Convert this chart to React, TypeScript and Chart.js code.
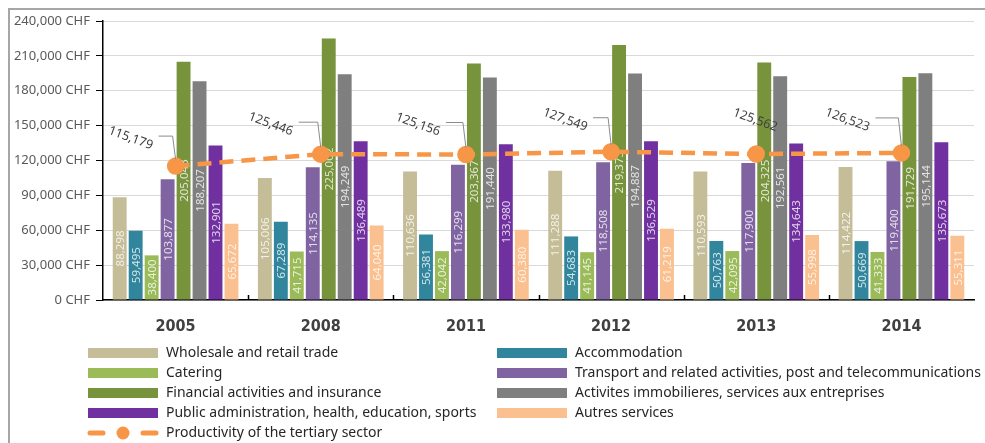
import { useEffect, useRef } from "react";
import { Chart, registerables } from "chart.js";

Chart.register(...registerables);

// Years on the category axis
const years = ["2005", "2008", "2011", "2012", "2013", "2014"];

// Value added per employee, CHF, by branch
const wholesale = [88298, 105006, 110636, 111288, 110593, 114422];
const accommodation = [59495, 67289, 56381, 54683, 50763, 50669];
const catering = [38400, 41715, 42042, 41145, 42095, 41333];
const transport = [103877, 114135, 116299, 118508, 117900, 119400];
const financial = [205043, 225002, 203367, 219373, 204325, 191729];
const realEstate = [188207, 194249, 191440, 194887, 192561, 195144];
const publicAdmin = [132901, 136489, 133980, 136529, 134643, 135673];
const otherServices = [65672, 64040, 60380, 61219, 55998, 55311];
const productivity = [115179, 125446, 125156, 127549, 125562, 126523];

// Value axis
const yMin = 0;
const yMax = 240000;
const yStep = 30000;

const seriesNames = [
  "Wholesale and retail trade",
  "Accommodation",
  "Catering",
  "Transport and related activities, post and telecommunications",
  "Financial activities and insurance",
  "Activites immobilieres, services aux entreprises",
  "Public administration, health, education, sports",
  "Autres services",
];
const lineName = "Productivity of the tertiary sector";

const barColors = ["#c4bd97", "#31859c", "#9bbb59", "#8064a2", "#77933c", "#7f7f7f", "#7030a0", "#fac090"];
const lineColor = "#f79646";

// Offsets (px) of the productivity labels from their points
const lineLabelOffsets: [number, number][] = [
  [-45, -28],
  [-50, -30],
  [-48, -30],
  [-46, -32],
  [-1, -34],
  [-54, -33],
];

const SANS = '"Noto Sans", "Open Sans", sans-serif';
const NARROW = '"Liberation Sans Narrow", "DejaVu Sans Condensed", sans-serif';

const fmt = (v: number) => String(Math.round(v)).replace(/\B(?=(\d{3})+(?!\d))/g, ",");

// Light grey frame along the top and left edges
const frame = {
  id: "frame",
  beforeDraw(chart: any) {
    const ctx = chart.ctx;
    ctx.save();
    ctx.fillStyle = "#fff";
    ctx.fillRect(0, 0, chart.width, chart.height);
    ctx.fillStyle = "#a6a6a6";
    ctx.fillRect(8, 8, chart.width - 8, 2);
    ctx.fillRect(8, 8, 2, chart.height - 8);
    ctx.restore();
  },
};

const barLabels = {
  id: "barLabels",
  afterDatasetDraw(chart: any, args: any) {
    const meta = args.meta;
    if (meta.type !== "bar") return;
    const ctx = chart.ctx;
    const values = chart.data.datasets[args.index].data as number[];
    ctx.save();
    ctx.font = `11.5px ${SANS}`;
    ctx.fillStyle = "rgba(255,255,255,0.78)";
    ctx.textAlign = "center";
    ctx.textBaseline = "middle";
    meta.data.forEach((el: any, i: number) => {
      const cy = (el.y + el.base) / 2;
      ctx.save();
      ctx.translate(el.x, cy);
      ctx.rotate(-Math.PI / 2);
      ctx.fillText(fmt(values[i]), 0, 1);
      ctx.restore();
    });
    ctx.restore();
  },
};

const lineLabels = {
  id: "lineLabels",
  afterDatasetsDraw(chart: any) {
    const ctx = chart.ctx;
    chart.data.datasets.forEach((ds: any, di: number) => {
      if (ds.type !== "line") return;
      const meta = chart.getDatasetMeta(di);
      meta.data.forEach((pt: any, i: number) => {
        const [dx, dy] = lineLabelOffsets[i];
        const tx = pt.x + dx;
        const ty = pt.y + dy;
        ctx.save();
        if (dx < -10) {
          ctx.strokeStyle = "#8c8c8c";
          ctx.lineWidth = 1;
          ctx.beginPath();
          ctx.moveTo(tx + 28, ty - 2);
          ctx.lineTo(pt.x - 3, ty - 2);
          ctx.lineTo(pt.x, pt.y - 7);
          ctx.stroke();
        }
        ctx.translate(tx, ty);
        ctx.rotate((20 * Math.PI) / 180);
        ctx.font = `12.5px ${SANS}`;
        ctx.fillStyle = "#404040";
        ctx.textAlign = "center";
        ctx.textBaseline = "middle";
        ctx.fillText(fmt(ds.data[i]), 0, 0);
        ctx.restore();
      });
    });
  },
};

const axisMarks = {
  id: "axisMarks",
  afterDraw(chart: any) {
    const ctx = chart.ctx;
    const x = chart.scales.x;
    const bottom = chart.chartArea.bottom;
    ctx.save();
    ctx.strokeStyle = "#000";
    ctx.lineWidth = 1.5;
    for (let i = 1; i < years.length; i++) {
      const bx = Math.round((x.getPixelForValue(i - 1) + x.getPixelForValue(i)) / 2) + 0.5;
      ctx.beginPath();
      ctx.moveTo(bx, bottom);
      ctx.lineTo(bx, bottom - 5);
      ctx.stroke();
    }
    ctx.restore();
  },
};

const sideLegend = {
  id: "sideLegend",
  afterDraw(chart: any) {
    const ctx = chart.ctx;
    const colX = [88, 497];
    const rowY0 = 353;
    const rowGap = 20;
    const boxW = 70;
    const boxH = 10;
    ctx.save();
    ctx.font = `14px ${SANS}`;
    ctx.textBaseline = "middle";
    ctx.textAlign = "left";
    const entries = [...seriesNames.map((n, i) => ({ n, c: barColors[i], line: false })), { n: lineName, c: lineColor, line: true }];
    entries.forEach((e, k) => {
      const cx = colX[k % 2];
      const cy = rowY0 + Math.floor(k / 2) * rowGap;
      if (e.line) {
        ctx.strokeStyle = e.c;
        ctx.lineWidth = 5;
        ctx.lineCap = "round";
        ctx.beginPath();
        ctx.moveTo(cx + 2, cy);
        ctx.lineTo(cx + 15, cy);
        ctx.moveTo(cx + 55, cy);
        ctx.lineTo(cx + 68, cy);
        ctx.stroke();
        ctx.fillStyle = e.c;
        ctx.beginPath();
        ctx.arc(cx + 35, cy, 6.5, 0, Math.PI * 2);
        ctx.fill();
      } else {
        ctx.fillStyle = e.c;
        ctx.fillRect(cx, cy - boxH / 2, boxW, boxH);
      }
      ctx.fillStyle = "#262626";
      ctx.fillText(e.n, cx + boxW + 8, cy);
    });
    ctx.restore();
  },
};

export default function App() {
  const ref = useRef<HTMLCanvasElement | null>(null);

  useEffect(() => {
    document.documentElement.style.overflow = "hidden";
    document.body.style.overflow = "hidden";
    if (!ref.current) return;
    const barSets = [wholesale, accommodation, catering, transport, financial, realEstate, publicAdmin, otherServices].map(
      (data, i) => ({
        type: "bar" as const,
        label: seriesNames[i],
        data,
        backgroundColor: barColors[i],
        categoryPercentage: 0.88,
        barPercentage: 0.87,
        order: 2,
      })
    );
    const chart = new Chart(ref.current, {
      type: "bar",
      data: {
        labels: years,
        datasets: [
          ...barSets,
          {
            type: "line" as const,
            label: lineName,
            data: productivity,
            borderColor: lineColor,
            backgroundColor: lineColor,
            borderWidth: 4.5,
            borderDash: [14, 8],
            pointRadius: 6.5,
            pointBackgroundColor: lineColor,
            pointBorderColor: lineColor,
            tension: 0,
            order: 1,
          } as any,
        ],
      },
      options: {
        responsive: false,
        animation: false,
        devicePixelRatio: 1,
        layout: { padding: { left: 0, right: 9.5, top: 21, bottom: 100 } },
        plugins: { legend: { display: false }, tooltip: { enabled: false } },
        scales: {
          x: {
            grid: { display: false, drawTicks: false },
            border: { display: true, color: "#000", width: 1.5 },
            ticks: {
              padding: 17,
              color: "#404040",
              font: { family: NARROW, size: 16, weight: "bold" },
            },
            afterFit: (s: any) => {
              s.height = 43;
            },
          },
          y: {
            min: yMin,
            max: yMax,
            grid: { color: "#d9d9d9", lineWidth: 1, tickColor: "#000", tickLength: 7 },
            border: { display: true, color: "#000", width: 1.5 },
            ticks: {
              stepSize: yStep,
              padding: 6,
              color: "#595959",
              font: { family: SANS, size: 13 },
              callback: (v: any) => `${fmt(Number(v))} CHF`,
            },
            afterFit: (s: any) => {
              s.width = 103;
            },
          },
        },
      },
      plugins: [frame, barLabels, lineLabels, axisMarks, sideLegend],
    });
    return () => chart.destroy();
  }, []);

  return (
    <canvas
      ref={ref}
      width={985}
      height={443}
      style={{ position: "fixed", top: 0, left: 0, display: "block" }}
    />
  );
}
